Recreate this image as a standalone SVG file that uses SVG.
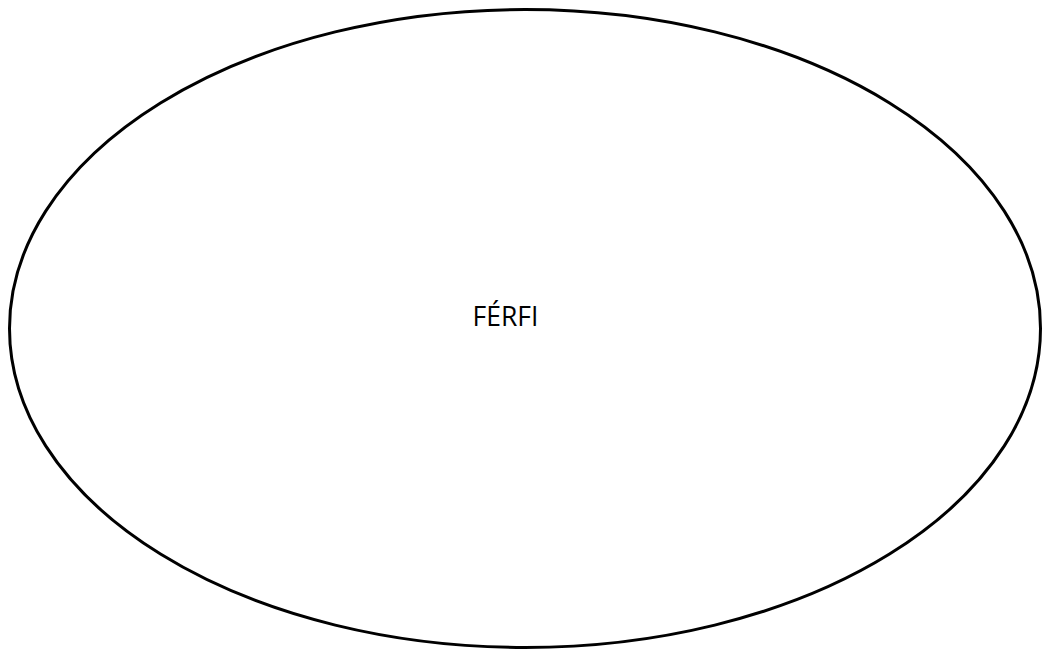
<svg xmlns="http://www.w3.org/2000/svg" width="1043" height="650" viewBox="0 0 1043 650">
<style>
.node{fill:#fff;stroke:#000;stroke-width:3}
.lbl{font-family:"Open Sans","Liberation Sans",sans-serif;font-size:26.5px;fill:#000}
</style>
<rect width="1043" height="650" fill="#fff"/>
<g id="connectors"></g>
<g id="ferfi">
<ellipse class="node" cx="525" cy="328.5" rx="515.5" ry="319"/>
<text class="lbl" x="505.5" y="326" text-anchor="middle">FÉRFI</text>
</g>
</svg>
